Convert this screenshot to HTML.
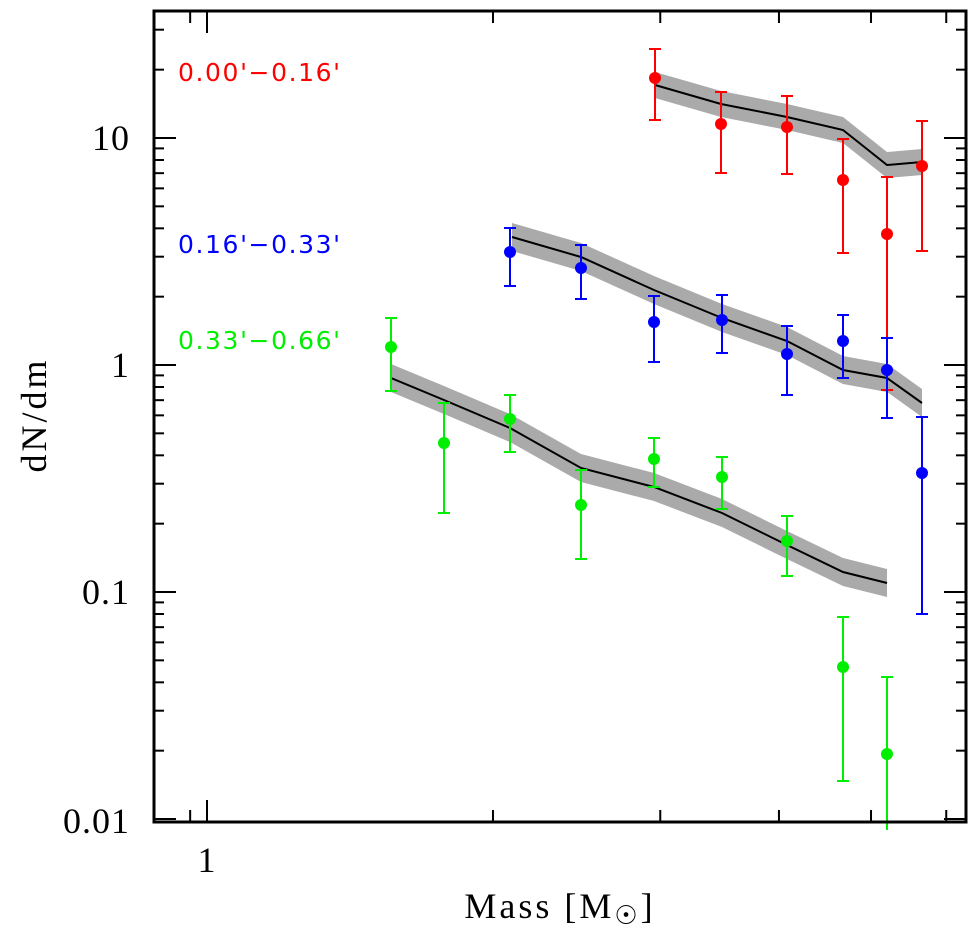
<!DOCTYPE html>
<html><head><meta charset="utf-8"><style>
html,body{margin:0;padding:0;background:#fff;width:978px;height:938px;overflow:hidden}
svg{display:block}
text{font-family:"Liberation Serif",serif}
.lab{font-family:"DejaVu Sans",sans-serif;font-size:25px;letter-spacing:1.6px}
</style></head><body>
<svg id="s" width="978" height="938" xmlns="http://www.w3.org/2000/svg">
<g id="g"></g>
<text class="lab" x="178" y="81" fill="#f00">0.00'−0.16'</text>
<text class="lab" x="178" y="253" fill="#00f">0.16'−0.33'</text>
<text class="lab" x="178" y="349" fill="#0e0">0.33'−0.66'</text>
<g font-size="36" letter-spacing="1">
<text x="130" y="150" text-anchor="end">10</text>
<text x="130" y="377" text-anchor="end">1</text>
<text x="130" y="604" text-anchor="end">0.1</text>
<text x="130" y="833" text-anchor="end">0.01</text>
<text x="207" y="872" text-anchor="middle">1</text>
<text x="560" y="918" text-anchor="middle" letter-spacing="3">Mass [M<tspan font-size="26" dy="6">☉</tspan><tspan dy="-6">]</tspan></text>
<text transform="translate(46,415) rotate(-90)" text-anchor="middle" letter-spacing="3">dN/dm</text>
</g>
<rect x="154" y="11" width="812" height="811" fill="none" stroke="#000" stroke-width="3"/>
</svg>
<script>
var g=document.getElementById('g'),h='';
function X(m){return 207+950*Math.log10(m)}
function Y(v){return 365-227*Math.log10(v)}
for(var d=-2;d<=1;d++)for(var k=1;k<10;k++){var v=k*Math.pow(10,d),y=Y(v);if(y<11||y>822)continue;var L=k==1?22:10;
h+='<line x1="154" y1="'+y+'" x2="'+(154+L)+'" y2="'+y+'" stroke="#000" stroke-width="2"/>';
h+='<line x1="966" y1="'+y+'" x2="'+(966-L)+'" y2="'+y+'" stroke="#000" stroke-width="2"/>';}
var xs=[0.96,1,2,3,4,5,6,7];for(var i=0;i<xs.length;i++){var x=X(xs[i]);if(x<154||x>966)continue;var L=xs[i]==1?22:12;
h+='<line x1="'+x+'" y1="822" x2="'+x+'" y2="'+(822-L)+'" stroke="#000" stroke-width="2"/>';
h+='<line x1="'+x+'" y1="11" x2="'+x+'" y2="'+(11+L)+'" stroke="#000" stroke-width="2"/>';}
function band(p,w){var up=p.map(function(q){return q[0]+','+(q[1]-w)}),dn=p.slice().reverse().map(function(q){return q[0]+','+(q[1]+w)});
h+='<polygon points="'+up.concat(dn).join(' ')+'" fill="#aaa"/>';
h+='<polyline points="'+p.map(function(q){return q.join(',')}).join(' ')+'" fill="none" stroke="#000" stroke-width="2"/>';}
band([[655,85],[721,104],[787,117],[843,130],[887,165],[922,162]],13);
band([[512,237],[581,257],[654,290],[722,318],[787,341],[843,370],[887,378],[922,403]],14);
band([[391,378],[444,400],[510,428],[581,468],[654,487],[722,513],[787,545],[843,572],[887,583]],14);
function pts(c,a){a.forEach(function(p){var x=p[0];h+='<line x1="'+x+'" y1="'+p[2]+'" x2="'+x+'" y2="'+p[3]+'" stroke="'+c+'" stroke-width="2"/>';
[p[2],p[3]].forEach(function(y){if(y<822)h+='<line x1="'+(x-6)+'" y1="'+y+'" x2="'+(x+6)+'" y2="'+y+'" stroke="'+c+'" stroke-width="2"/>'});
h+='<circle cx="'+x+'" cy="'+p[1]+'" r="6" fill="'+c+'"/>';});}
pts('#f00',[[655,78,49,120],[721,124,92,173],[787,127,96,174],[843,180,139,253],[887,234,177,390],[922,166,121,251]]);
pts('#00f',[[510,252,228,286],[581,268,245,299],[654,322,296,362],[722,320,295,353],[787,354,326,395],[843,341,315,378],[887,370,338,418],[922,473,417,614]]);
pts('#0e0',[[391,347,318,391],[444,443,403,513],[510,419,395,452],[581,505,470,559],[654,459,438,487],[722,477,457,509],[787,541,516,576],[843,667,617,781],[887,754,677,830]]);
g.innerHTML=h;
</script>
</body></html>
